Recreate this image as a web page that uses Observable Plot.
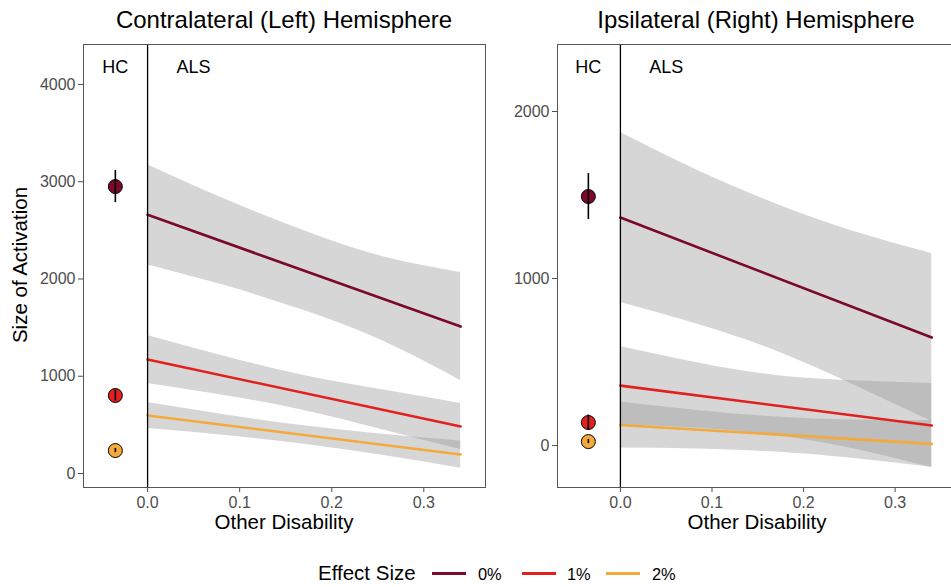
<!DOCTYPE html>
<html>
<head>
<meta charset="utf-8">
<script src="https://cdn.jsdelivr.net/npm/d3@7"></script>
<script src="https://cdn.jsdelivr.net/npm/@observablehq/plot@0.6"></script>
<style>
  html, body { margin: 0; padding: 0; background: #fff; }
  #wrap { position: relative; width: 951px; height: 587px; overflow: hidden; background: #fff;
          font-family: "Liberation Sans", Arial, Helvetica, sans-serif; color: #000; }
  .abs { position: absolute; white-space: nowrap; }
  .title { font-size: 24px; line-height: 28px; text-align: center; top: 6px; width: 420px; }
  .xlab { font-size: 20.5px; line-height: 24px; text-align: center; top: 510px; width: 300px; }
  .ylab { font-size: 20.5px; line-height: 24px; left: 20px; top: 265px; transform: translate(-50%, -50%) rotate(-90deg); }
  .legtxt { top: 561px; line-height: 24px; }
  .sw { position: absolute; height: 3px; top: 572px; width: 34px; }
</style>
</head>
<body>
<div id="wrap"></div>
<script>
// ---------- data ----------
const series = ["0%", "1%", "2%"];
const colors = ["#7b0a2a", "#e1201f", "#f4a93c"];
const xTicks = [0, 0.1, 0.2, 0.3];
const lineX = [0, 0.34];
const ribbonX = [0, 0.085, 0.17, 0.255, 0.34];
const hcX = -0.035;
const groupLabels = ["HC", "ALS"];
const groupLabelX = [-0.035, 0.05];

// Left: Contralateral (Left) Hemisphere
const leftTitle = "Contralateral (Left) Hemisphere";
const leftYTicks = [0, 1000, 2000, 3000, 4000];
const leftLine0 = [2660, 1511];
const leftLine1 = [1172, 483];
const leftLine2 = [596, 195];
const leftUpper0 = [3175, 2816, 2495, 2231, 2066];
const leftLower0 = [2145, 1930, 1675, 1365, 956];
const leftUpper1 = [1419, 1200, 1008, 860, 719];
const leftLower1 = [925, 800, 648, 450, 247];
const leftUpper2 = [729, 601, 491, 404, 335];
const leftLower2 = [463, 391, 301, 188, 55];
const leftHC = [2950, 802, 236];
const leftHCerr = [165, 55, 22];
const leftLabelY = 4175;

// Right: Ipsilateral (Right) Hemisphere
const rightTitle = "Ipsilateral (Right) Hemisphere";
const rightYTicks = [0, 1000, 2000];
const rightLine0 = [1365, 647];
const rightLine1 = [359, 120];
const rightLine2 = [123, 10];
const rightUpper0 = [1874, 1645, 1446, 1281, 1150];
const rightLower0 = [856, 725, 566, 362, 144];
const rightUpper1 = [593, 494, 420, 388, 371];
const rightLower1 = [125, 104, 60, -20, -131];
const rightUpper2 = [261, 210, 171, 153, 150];
const rightLower2 = [-15, -20, -39, -77, -130];
const rightHC = [1491, 138, 24];
const rightHCerr = [138, 45, 12];
const rightLabelY = 2263;

const xLabel = "Other Disability";
const yLabel = "Size of Activation";
const legendTitle = "Effect Size";

// ---------- drawing ----------
const font = '"Liberation Sans", Arial, Helvetica, sans-serif';

function panel(o) {
  const ribbons = [];
  series.forEach((s, i) => ribbonX.forEach((x, j) =>
    ribbons.push({s, x, lo: o.lowers[i][j], hi: o.uppers[i][j]})));
  const lineData = [];
  series.forEach((s, i) => lineX.forEach((x, j) => lineData.push({s, x, y: o.lines[i][j]})));
  const hcData = series.map((s, i) => ({s, x: hcX, y: o.hc[i], lo: o.hc[i] - o.err[i], hi: o.hc[i] + o.err[i]}));
  const ann = groupLabels.map((t, i) => ({t, x: groupLabelX[i], y: o.labelY}));
  return Plot.plot({
    width: o.width, height: 497,
    marginTop: 6, marginBottom: 48, marginLeft: o.marginLeft, marginRight: o.marginRight,
    x: {domain: o.xDomain},
    y: {domain: o.yDomain},
    color: {domain: series, range: colors},
    style: {fontFamily: font, fontSize: "16px", color: "#4d4d4d", background: "transparent", overflow: "visible"},
    marks: [
      Plot.areaY(ribbons, {x: "x", y1: "lo", y2: "hi", z: "s", fill: "#999999", fillOpacity: 0.4, curve: "natural"}),
      Plot.line(lineData, {x: "x", y: "y", z: "s", stroke: "s", strokeWidth: 2.6}),
      Plot.ruleX([0], {stroke: "black", strokeWidth: 1.3}),
      Plot.dot(hcData, {x: "x", y: "y", r: 7, fill: "s", stroke: "black", strokeWidth: 1}),
      Plot.ruleX(hcData, {x: "x", y1: "lo", y2: "hi", stroke: "black", strokeWidth: 1.6}),
      Plot.text(ann, {x: "x", y: "y", text: "t", fill: "black", fontSize: 18}),
      Plot.axisX({ticks: xTicks, tickFormat: d3.format(".1f"), tickSize: 5, tickPadding: 4, label: null, fontSize: 16}),
      Plot.axisY({ticks: o.yTicks, tickFormat: d3.format("d"), tickSize: 5, tickPadding: 3, label: null, fontSize: 16}),
      Plot.frame({stroke: "#555555", strokeWidth: 1})
    ]
  });
}

const wrap = document.getElementById("wrap");

const left = panel({
  width: 490, marginLeft: 83, marginRight: 5,
  xDomain: [-0.0696, 0.367], yDomain: [-144, 4411], yTicks: leftYTicks,
  lines: [leftLine0, leftLine1, leftLine2],
  uppers: [leftUpper0, leftUpper1, leftUpper2],
  lowers: [leftLower0, leftLower1, leftLower2],
  hc: leftHC, err: leftHCerr, labelY: leftLabelY
});
left.style.position = "absolute"; left.style.left = "0px"; left.style.top = "38px";
wrap.appendChild(left);

const right = panel({
  width: 470, marginLeft: 67, marginRight: 4,
  xDomain: [-0.0687, 0.367], yDomain: [-251, 2401], yTicks: rightYTicks,
  lines: [rightLine0, rightLine1, rightLine2],
  uppers: [rightUpper0, rightUpper1, rightUpper2],
  lowers: [rightLower0, rightLower1, rightLower2],
  hc: rightHC, err: rightHCerr, labelY: rightLabelY
});
right.style.position = "absolute"; right.style.left = "490px"; right.style.top = "38px";
wrap.appendChild(right);

function addDiv(cls, text, css) {
  const d = document.createElement("div");
  d.className = "abs " + cls;
  d.textContent = text;
  Object.assign(d.style, css || {});
  wrap.appendChild(d);
  return d;
}
addDiv("title", leftTitle, {left: (284 - 210) + "px"});
addDiv("title", rightTitle, {left: (756 - 210) + "px"});
addDiv("xlab", xLabel, {left: (284 - 150) + "px"});
addDiv("xlab", xLabel, {left: (757 - 150) + "px"});
addDiv("ylab", yLabel);

// legend
addDiv("legtxt", legendTitle, {left: "318px", fontSize: "20.5px"});
const swLeft = [432, 522, 606];
const labLeft = [478, 567, 652];
series.forEach((s, i) => {
  const sw = document.createElement("div");
  sw.className = "sw";
  sw.style.left = swLeft[i] + "px";
  sw.style.background = colors[i];
  wrap.appendChild(sw);
  addDiv("legtxt", s, {left: labLeft[i] + "px", fontSize: "16.4px", top: "562px"});
});
</script>
</body>
</html>
